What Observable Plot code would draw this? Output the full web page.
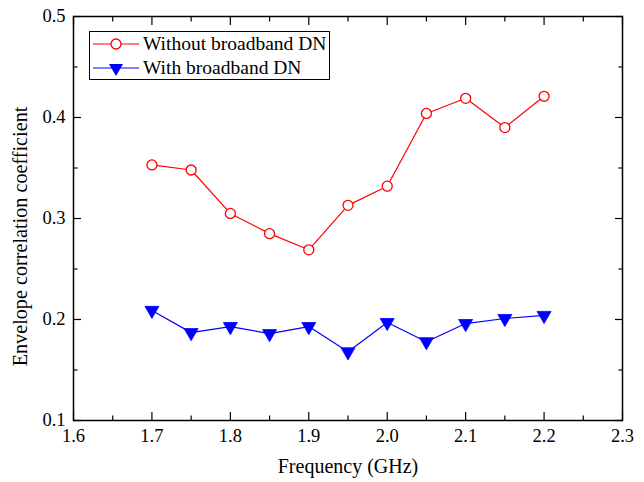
<!DOCTYPE html>
<html>
<head>
<meta charset="utf-8">
<script src="https://cdn.jsdelivr.net/npm/d3@7"></script>
<script src="https://cdn.jsdelivr.net/npm/@observablehq/plot@0.6"></script>
<style>
  html, body { margin: 0; padding: 0; background: #fff; }
  #wrap { position: relative; width: 644px; height: 482px; font-family: "Liberation Serif", "DejaVu Serif", serif; }
  #legend { position: absolute; left: 89px; top: 31px; width: 239px; height: 47px; border: 1.4px solid #000; background: #fff; }
  #legend .row { position: absolute; left: 0; height: 24px; display: flex; align-items: center; font-size: 19.5px; color: #000; white-space: nowrap; }
  #legend svg { display: block; }
</style>
</head>
<body>
<div id="wrap"></div>
<script>
const freq = [1.7, 1.75, 1.8, 1.85, 1.9, 1.95, 2.0, 2.05, 2.1, 2.15, 2.2];
const withoutDN = [0.353, 0.348, 0.305, 0.285, 0.269, 0.313, 0.332, 0.404, 0.419, 0.390, 0.421];
const withDN = [0.209, 0.187, 0.193, 0.186, 0.193, 0.168, 0.197, 0.178, 0.196, 0.201, 0.204];
const seriesNames = ["Without broadband DN", "With broadband DN"];
const xTicks = [1.6, 1.7, 1.8, 1.9, 2.0, 2.1, 2.2, 2.3];
const xMinor = [1.65, 1.75, 1.85, 1.95, 2.05, 2.15, 2.25];
const yTicks = [0.1, 0.2, 0.3, 0.4, 0.5];
const yMinor = [0.15, 0.25, 0.35, 0.45];
const xLabel = "Frequency (GHz)";
const yLabel = "Envelope correlation coefficient";

const red = freq.map((f, i) => ({f, v: withoutDN[i]}));
const blue = freq.map((f, i) => ({f, v: withDN[i]}));
const fmt = d3.format(".1f");

const chart = Plot.plot({
  width: 644, height: 482,
  marginLeft: 73, marginRight: 22, marginTop: 16, marginBottom: 62,
  style: {fontFamily: "Liberation Serif, serif", fontSize: "18.5px", color: "#000", background: "#fff"},
  x: {domain: [1.6, 2.3]},
  y: {domain: [0.1, 0.5]},
  marks: [
    // tick labels
    Plot.axisX({ticks: xTicks, tickSize: 0, tickPadding: 8, tickFormat: fmt, label: null, fontSize: 18.5}),
    Plot.axisY({ticks: yTicks, tickSize: 0, tickPadding: 8, tickFormat: fmt, label: null, fontSize: 18.5}),
    // inward ticks on all four sides
    Plot.axisX({anchor: "bottom", ticks: xTicks, tickSize: -8, tickFormat: () => "", label: null, strokeWidth: 1.2}),
    Plot.axisX({anchor: "bottom", ticks: xMinor, tickSize: -4.5, tickFormat: () => "", label: null, strokeWidth: 1.2}),
    Plot.axisX({anchor: "top", ticks: xTicks, tickSize: -8, tickFormat: () => "", label: null, strokeWidth: 1.2}),
    Plot.axisX({anchor: "top", ticks: xMinor, tickSize: -4.5, tickFormat: () => "", label: null, strokeWidth: 1.2}),
    Plot.axisY({anchor: "left", ticks: yTicks, tickSize: -8, tickFormat: () => "", label: null, strokeWidth: 1.2}),
    Plot.axisY({anchor: "left", ticks: yMinor, tickSize: -4.5, tickFormat: () => "", label: null, strokeWidth: 1.2}),
    Plot.axisY({anchor: "right", ticks: yTicks, tickSize: -8, tickFormat: () => "", label: null, strokeWidth: 1.2}),
    Plot.axisY({anchor: "right", ticks: yMinor, tickSize: -4.5, tickFormat: () => "", label: null, strokeWidth: 1.2}),
    Plot.frame({stroke: "#000", strokeWidth: 1.5}),
    // axis titles
    Plot.text([xLabel], {frameAnchor: "bottom", textAnchor: "middle", dy: 52, fontSize: 20, fill: "#000"}),
    Plot.text([yLabel], {frameAnchor: "left", textAnchor: "middle", dx: -53, dy: 18, rotate: -90, fontSize: 20.2, fill: "#000"}),
    // series
    Plot.line(red, {x: "f", y: "v", stroke: "#ff0000", strokeWidth: 1.2}),
    Plot.dot(red, {x: "f", y: "v", r: 5, stroke: "#ff0000", fill: "#fff", strokeWidth: 1.3}),
    Plot.line(blue, {x: "f", y: "v", stroke: "#0000ff", strokeWidth: 1.2}),
    Plot.dot(blue, {x: "f", y: "v", r: 5.2, symbol: "triangle", rotate: 180, fill: "#0000ff", stroke: "#0000ff", strokeWidth: 0.8})
  ]
});

const wrap = document.getElementById("wrap");
wrap.appendChild(chart);

// legend
const legend = document.createElement("div");
legend.id = "legend";
const rowDefs = [
  {name: seriesNames[0], color: "#ff0000", sym: "circle"},
  {name: seriesNames[1], color: "#0000ff", sym: "tri"}
];
rowDefs.forEach((d, i) => {
  const row = document.createElement("div");
  row.className = "row";
  row.style.top = (i === 0 ? 0 : 24) + "px";
  const s = d3.create("svg").attr("width", 52).attr("height", 24);
  s.append("line").attr("x1", 3).attr("x2", 49).attr("y1", 12).attr("y2", 12).attr("stroke", d.color).attr("stroke-width", 1.2);
  if (d.sym === "circle") {
    s.append("circle").attr("cx", 26).attr("cy", 12).attr("r", 5).attr("fill", "#fff").attr("stroke", d.color).attr("stroke-width", 1.3);
  } else {
    s.append("path").attr("d", d3.symbol(d3.symbolTriangle, Math.PI * 5.2 * 5.2)()).attr("transform", "translate(26,12) rotate(180)").attr("fill", d.color);
  }
  row.appendChild(s.node());
  const t = document.createElement("span");
  t.textContent = d.name;
  t.style.marginLeft = "1px";
  row.appendChild(t);
  legend.appendChild(row);
});
wrap.appendChild(legend);
</script>
</body>
</html>
